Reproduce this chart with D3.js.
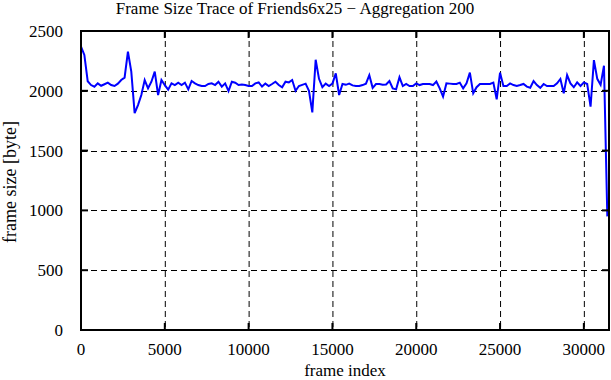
<!DOCTYPE html>
<html>
<head>
<meta charset="utf-8">
<script src="https://cdn.jsdelivr.net/npm/d3@7.9.0/dist/d3.min.js"></script>
<style>
  body { margin: 0; background: #fff; }
  svg text { font-family: "Liberation Serif", "DejaVu Serif", serif; fill: #000; }
</style>
</head>
<body>
<svg id="chart" width="611" height="380"></svg>
<script>
// aggregated frame size, one value per 200 frames
const step = 200;
const frameSize = [
  2370, 2300, 2080, 2048, 2034, 2062, 2042, 2055, 2068, 2048,
  2040, 2060, 2090, 2110, 2328, 2160, 1814, 1881, 1965, 2090,
  2021, 2076, 2160, 1965, 2090, 2048, 2010, 2062, 2048, 2068,
  2048, 2068, 2012, 2082, 2062, 2048, 2040, 2040, 2057, 2062,
  2048, 2076, 2035, 2062, 1998, 2076, 2068, 2048, 2053, 2048,
  2040, 2040, 2062, 2070, 2035, 2060, 2040, 2057, 2076, 2048,
  2029, 2076, 2070, 2090, 2000, 2040, 2050, 2060, 2000, 1820,
  2260, 2100, 2030, 2060, 2040, 2060, 2146, 1965, 2057, 2050,
  2060, 2045, 2040, 2040, 2048, 2060, 2130, 2025, 2057, 2057,
  2050, 2053, 2082, 2020, 2012, 2113, 2040, 2057, 2040, 2040,
  2062, 2048, 2057, 2057, 2057, 2048, 2078, 2020, 1951, 2062,
  2060, 2057, 2057, 2068, 2020, 2062, 2152, 1979, 2030, 2057,
  2057, 2057, 2057, 2068, 1929, 2152, 2040, 2040, 2062, 2048,
  2040, 2048, 2057, 2035, 2025, 2082, 2048, 2025, 2057, 2040,
  2040, 2040, 2062, 2099, 1979, 2132, 2062, 2030, 2070, 2040,
  2070, 2057, 1867, 2257, 2100, 2050, 2210, 950
];
const xTicks = [0, 5000, 10000, 15000, 20000, 25000, 30000];
const yTicks = [0, 500, 1000, 1500, 2000, 2500];

const data = frameSize.map((v, i) => ({ frame: i * step, size: v }));

const svg = d3.select('#chart');
const m = { left: 81, right: 609, top: 31, bottom: 330 };

const x = d3.scaleLinear().domain([0, 31500]).range([m.left, m.right]);
const y = d3.scaleLinear().domain([0, 2500]).range([m.bottom, m.top]);

// grid
const grid = svg.append('g').attr('stroke', '#000').attr('stroke-width', 1)
  .attr('stroke-dasharray', '6,4').attr('fill', 'none');
xTicks.filter(t => t > 0).forEach(t => {
  grid.append('line').attr('x1', x(t) + 0.5).attr('x2', x(t) + 0.5)
    .attr('y1', m.top).attr('y2', m.bottom);
});
yTicks.filter(t => t > 0 && t < 2500).forEach(t => {
  grid.append('line').attr('x1', m.left).attr('x2', m.right)
    .attr('y1', Math.round(y(t)) + 0.5).attr('y2', Math.round(y(t)) + 0.5);
});

// data line
const line = d3.line().x(d => x(d.frame)).y(d => y(d.size));
svg.append('path').datum(data)
  .attr('d', line)
  .attr('fill', 'none')
  .attr('stroke', '#0000ff')
  .attr('stroke-width', 2);

// frame + inner ticks on every side
const tk = 7;
const frame = svg.append('g').attr('stroke', '#000').attr('stroke-width', 2).attr('fill', 'none');
xTicks.forEach(t => {
  frame.append('line').attr('x1', x(t)).attr('x2', x(t)).attr('y1', m.bottom).attr('y2', m.bottom - tk);
  frame.append('line').attr('x1', x(t)).attr('x2', x(t)).attr('y1', m.top).attr('y2', m.top + tk);
});
yTicks.forEach(t => {
  frame.append('line').attr('x1', m.left).attr('x2', m.left + tk).attr('y1', y(t)).attr('y2', y(t));
  frame.append('line').attr('x1', m.right).attr('x2', m.right - tk).attr('y1', y(t)).attr('y2', y(t));
});
frame.append('rect').attr('x', m.left).attr('y', m.top)
  .attr('width', m.right - m.left).attr('height', m.bottom - m.top);

// tick labels
svg.append('g').selectAll('text').data(xTicks).join('text')
  .attr('x', d => x(d)).attr('y', 355)
  .attr('text-anchor', 'middle').attr('font-size', 17)
  .text(d => d);
svg.append('g').selectAll('text').data(yTicks).join('text')
  .attr('x', 63).attr('y', d => y(d) + 6)
  .attr('text-anchor', 'end').attr('font-size', 17)
  .text(d => d);

// titles
svg.append('text').attr('x', 295).attr('y', 14)
  .attr('text-anchor', 'middle').attr('font-size', 17)
  .text('Frame Size Trace of Friends6x25 \u2212 Aggregation 200');
svg.append('text').attr('x', 345).attr('y', 376)
  .attr('text-anchor', 'middle').attr('font-size', 17)
  .text('frame index');
svg.append('text')
  .attr('transform', 'translate(16,182) rotate(-90)')
  .attr('text-anchor', 'middle').attr('font-size', 18)
  .text('frame size [byte]');
</script>
</body>
</html>
